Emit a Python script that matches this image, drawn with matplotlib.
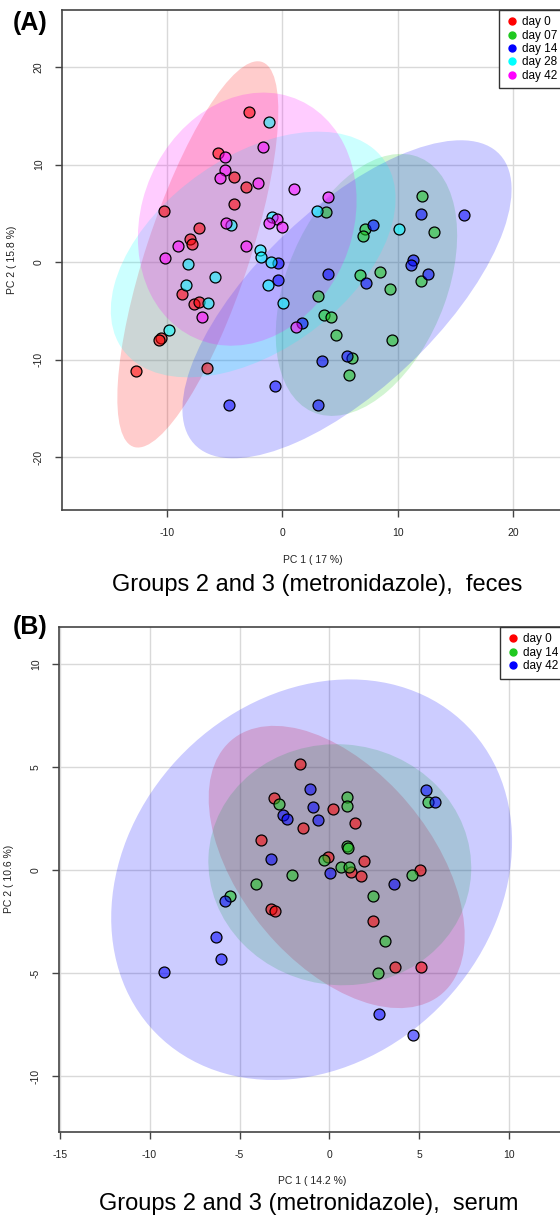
import numpy as np
import matplotlib
matplotlib.use("Agg")
import matplotlib.pyplot as plt
from matplotlib.patches import Ellipse

plt.rcParams['font.family'] = ['Liberation Sans', 'DejaVu Sans']
plt.rcParams['axes.unicode_minus'] = False

# ---- panel A: feces, PC scores ----
feces_groups = ['day 0', 'day 07', 'day 14', 'day 28', 'day 42']
feces_colors = ['#FF0000', '#1FC81F', '#0000FF', '#00FFFF', '#FF00FF']

feces_day0 = [(-2.89, 15.38), (-5.55, 11.15), (-4.14, 8.73), (-3.13, 7.74), (-4.22, 5.97),
              (-10.2, 5.22), (-7.22, 3.51), (-7.97, 2.35), (-7.8, 1.9), (-8.64, -3.24),
              (-7.6, -4.24), (-7.22, -4.09), (-10.54, -7.72), (-10.7, -7.95), (-12.65, -11.13),
              (-6.53, -10.82)]
feces_day07 = [(3.77, 5.12), (12.09, 6.82), (7.2, 3.37), (7.03, 2.66), (13.12, 3.1),
               (12.05, -1.88), (6.72, -1.33), (8.48, -1.02), (9.31, -2.73), (3.08, -3.48),
               (3.63, -5.36), (4.18, -5.63), (4.67, -7.44), (9.52, -7.99), (6.0, -9.83),
               (5.82, -11.6)]
feces_day14 = [(12.0, 4.94), (15.78, 4.81), (7.84, 3.78), (11.36, 0.27), (11.13, -0.24),
               (12.6, -1.23), (7.24, -2.15), (3.97, -1.23), (-0.41, -0.04), (-0.41, -1.81),
               (1.72, -6.21), (3.43, -10.1), (5.62, -9.66), (-0.61, -12.7), (-4.6, -14.64),
               (3.07, -14.6)]
feces_day28 = [(-1.13, 14.36), (-4.42, 3.82), (-0.87, 4.67), (3.02, 5.28), (10.1, 3.37),
               (-1.91, 1.26), (-1.83, 0.51), (-0.99, 0.06), (-8.2, -0.14), (-5.84, -1.47),
               (-8.32, -2.29), (-1.22, -2.35), (0.1, -4.17), (-6.47, -4.2), (-9.79, -6.9)]
feces_day42 = [(-1.65, 11.8), (-5.0, 10.78), (-4.92, 9.45), (-5.35, 8.63), (-2.11, 8.08),
               (1.03, 7.5), (3.97, 6.72), (-4.86, 3.99), (-9.04, 1.64), (-3.1, 1.7),
               (-10.17, 0.47), (-0.47, 4.4), (-1.13, 4.02), (0.02, 3.61), (-6.96, -5.6),
               (1.23, -6.65)]

# ---- panel B: serum ----
serum_groups = ['day 0', 'day 14', 'day 42']
serum_colors = ['#FF0000', '#1FC81F', '#0000FF']

serum_day0 = [(-1.61, 5.18), (-3.07, 3.51), (-1.46, 2.07), (-3.83, 1.46), (-3.26, -1.86),
              (-3.02, -1.96), (0.21, 2.98), (1.44, 2.3), (-0.06, 0.66), (1.94, 0.45),
              (1.19, -0.06), (1.78, -0.29), (5.02, 0.0), (2.44, -2.48), (3.65, -4.72),
              (5.09, -4.68)]
serum_day14 = [(-2.83, 3.22), (-2.07, -0.23), (-4.07, -0.68), (-5.53, -1.23), (0.97, 3.58),
               (0.98, 3.12), (1.0, 1.18), (1.02, 1.1), (-0.29, 0.52), (0.65, 0.15),
               (1.08, 0.16), (4.59, -0.23), (2.43, -1.23), (5.48, 3.3), (3.09, -3.46),
               (2.72, -4.97)]
serum_day42 = [(-1.07, 3.93), (-0.89, 3.09), (-2.57, 2.67), (-2.37, 2.51), (-0.64, 2.43),
               (-3.24, 0.57), (-5.83, -1.49), (-6.33, -3.24), (0.04, -0.13), (3.61, -0.66),
               (5.39, 3.92), (5.87, 3.33), (-6.03, -4.3), (-9.22, -4.95), (2.78, -7.0),
               (4.67, -8.01)]


def conf_ellipse(pts, color, ax, chi2=5.991):
    """95% normal-theory ellipse of a group, like the R ellipse package."""
    pts = np.asarray(pts)
    cov = np.cov(pts.T)
    vals, vecs = np.linalg.eigh(cov)
    order = vals.argsort()[::-1]
    vals, vecs = vals[order], vecs[:, order]
    angle = np.degrees(np.arctan2(vecs[1, 0], vecs[0, 0]))
    w, h = 2 * np.sqrt(chi2 * vals)
    e = Ellipse(pts.mean(axis=0), w, h, angle=angle, facecolor=color,
                edgecolor='none', alpha=0.2, zorder=1)
    ax.add_patch(e)


def pca_panel(ax, groups, colors, data, xlim, ylim, xticks, yticks, xlab, ylab):
    ax.set_xlim(xlim)
    ax.set_ylim(ylim)
    ax.set_xticks(xticks)
    ax.set_yticks(yticks)
    ax.grid(True, color='#d9d9d9', linewidth=1.0, zorder=0)
    ax.set_axisbelow(True)
    for pts, col in zip(data, colors):
        conf_ellipse(pts, col, ax)
    for pts, col in zip(data, colors):
        pts = np.asarray(pts)
        ax.scatter(pts[:, 0], pts[:, 1], s=62, c=[matplotlib.colors.to_rgba(col, 0.55)],
                   edgecolors='black', linewidths=0.9, zorder=3)
    # legend dots
    handles = [plt.Line2D([], [], marker='o', linestyle='none', color=c, markersize=5)
               for c in colors]
    leg = ax.legend(handles, groups, loc='upper right', borderaxespad=0, fancybox=False,
                    edgecolor='#333333', framealpha=1, fontsize=8.5, handletextpad=0.2,
                    handlelength=1.2, labelspacing=0.12, borderpad=0.55)
    leg.get_frame().set_linewidth(1.0)
    for s in ax.spines.values():
        s.set_color('#444444')
        s.set_linewidth(1.2)
    ax.tick_params(direction='out', length=5, width=1, color='#444444', labelsize=7.5,
                   labelcolor='#222222', pad=8)
    for lbl in ax.get_yticklabels():
        lbl.set_rotation(90)
        lbl.set_va('center')
    ax.set_xlabel(xlab, fontsize=7.5, labelpad=12, color='#222222')
    ax.set_ylabel(ylab, fontsize=7.5, labelpad=12, color='#222222')


fig = plt.figure(figsize=(5.6, 12.17), dpi=100)

axA = fig.add_axes([0.1104, 0.5809, 0.8959, 0.4111])
pca_panel(axA, feces_groups, feces_colors,
          [feces_day0, feces_day07, feces_day14, feces_day28, feces_day42],
          (-19.09, 24.36), (-25.39, 25.86), [-10, 0, 10, 20], [-20, -10, 0, 10, 20],
          'PC 1 ( 17 %)', 'PC 2 ( 15.8 %)')

axB = fig.add_axes([0.1052, 0.0701, 0.9032, 0.4149])
pca_panel(axB, serum_groups, serum_colors,
          [serum_day0, serum_day14, serum_day42],
          (-15.04, 13.08), (-12.70, 11.83), [-15, -10, -5, 0, 5, 10], [-10, -5, 0, 5, 10],
          'PC 1 ( 14.2 %)', 'PC 2 ( 10.6 %)')

fig.text(0.054, 1 - 11 / 1217, '(A)', fontsize=18, fontweight='bold', va='top', ha='center')
fig.text(0.054, 1 - 615 / 1217, '(B)', fontsize=18, fontweight='bold', va='top', ha='center')
fig.text(317 / 560, 1 - 585 / 1217, 'Groups 2 and 3 (metronidazole),  feces',
         fontsize=17, ha='center', va='center')
fig.text(309 / 560, 1 - 1204 / 1217, 'Groups 2 and 3 (metronidazole),  serum',
         fontsize=17, ha='center', va='center')

fig.savefig('out.png', dpi=100)
